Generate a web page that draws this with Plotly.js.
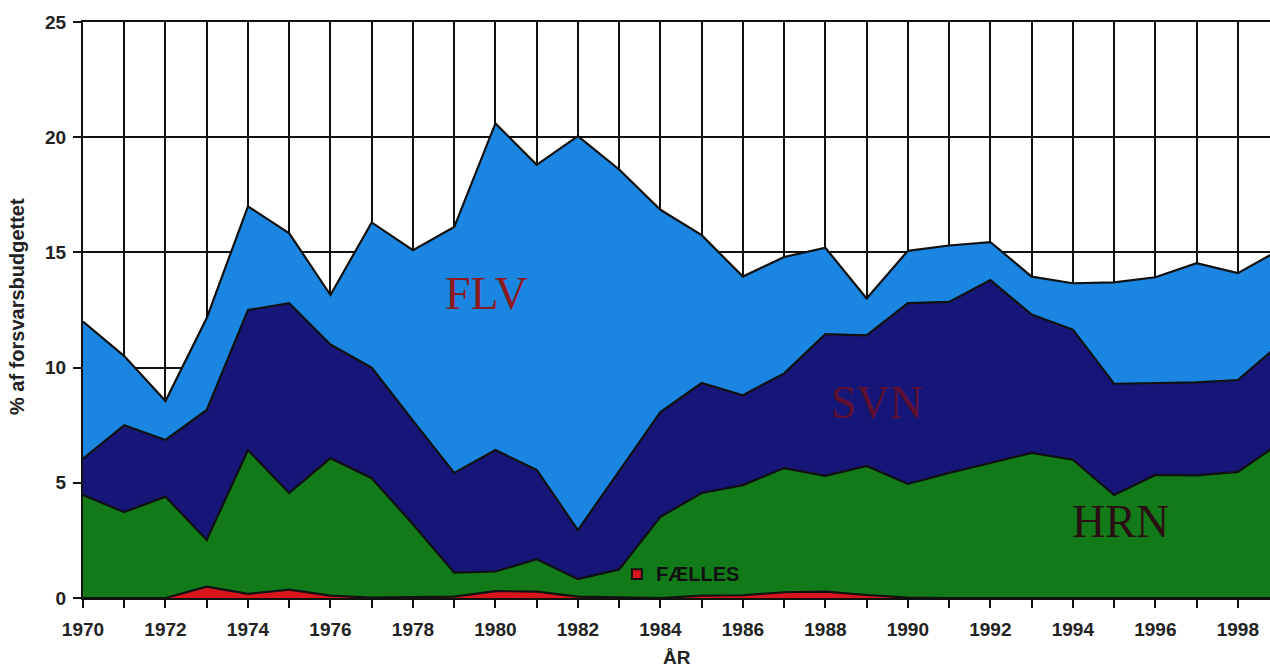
<!DOCTYPE html>
<html>
<head>
<meta charset="utf-8">
<script src="https://cdn.plot.ly/plotly-3.0.1.min.js"></script>
<style>
html,body{margin:0;padding:0;background:#fff;}
#chart{width:1270px;height:671px;}
</style>
</head>
<body>
<div id="chart"></div>
<script>
// Years
const years = [1970,1971,1972,1973,1974,1975,1976,1977,1978,1979,
               1980,1981,1982,1983,1984,1985,1986,1987,1988,1989,
               1990,1991,1992,1993,1994,1995,1996,1997,1998,1999];

// Share of the defence budget (%), per series (stacked bottom to top)
const faelles = [0,0,0,0.49,0.18,0.36,0.10,0.02,0.05,0.06,
                 0.30,0.28,0.06,0.02,0,0.10,0.12,0.25,0.28,0.13,
                 0.02,0,0,0,0,0,0,0,0,0];
const hrn = [4.47,3.73,4.40,2.03,6.24,4.20,5.97,5.18,3.15,1.04,
             0.85,1.40,0.76,1.22,3.52,4.46,4.78,5.39,5.02,5.60,
             4.93,5.43,5.86,6.30,6.00,4.47,5.34,5.32,5.47,6.70];
const svn = [1.58,3.77,2.46,5.64,6.08,8.24,4.93,4.80,4.50,4.33,
             5.27,3.88,2.13,4.26,4.55,4.77,3.90,4.11,6.15,5.67,
             7.85,7.42,7.94,6.00,5.65,4.83,3.99,4.04,3.99,4.30];
const flv = [5.95,3.00,1.69,3.99,4.50,3.03,2.15,6.30,7.40,10.67,
             14.18,13.24,17.10,13.10,8.78,6.42,5.15,5.05,3.75,1.60,
             2.27,2.45,1.65,1.65,2.01,4.40,4.59,5.17,4.64,4.10];

const seriesNames = ['FÆLLES','HRN','SVN','FLV'];
const seriesData = [faelles, hrn, svn, flv];
const seriesColors = ['#d8141c','#127a18','#151678','#1a86e2'];

const traces = seriesData.map((vals, i) => ({
  x: years,
  y: vals,
  name: seriesNames[i],
  type: 'scatter',
  mode: 'lines',
  stackgroup: 'one',
  line: {color: '#111', width: 2.2},
  fillcolor: seriesColors[i],
  showlegend: false,
  hoverinfo: 'x+y+name'
}));

const tickFont = {family: 'Liberation Sans, Arial, sans-serif', size: 19, color: '#222', weight: 'bold'};
const serif = 'Liberation Serif, Times New Roman, serif';

const layout = {
  width: 1270,
  height: 671,
  margin: {l: 83, r: 0, t: 22, b: 73},
  paper_bgcolor: '#fff',
  plot_bgcolor: '#fff',
  showlegend: false,
  xaxis: {
    range: [1970, 1998.78],
    tickmode: 'linear',
    tick0: 1970,
    dtick: 2,
    ticks: 'outside',
    ticklen: 8,
    tickwidth: 2,
    tickcolor: '#111',
    ticklabelstandoff: 5,
    tickfont: tickFont,
    showgrid: true,
    gridcolor: '#111',
    gridwidth: 2,
    minor: {dtick: 1, tick0: 1970, ticks: 'outside', ticklen: 8, tickwidth: 2, tickcolor: '#111',
            showgrid: true, gridcolor: '#111', gridwidth: 2},
    showline: true,
    mirror: true,
    linecolor: '#111',
    linewidth: 2,
    zeroline: false,
    fixedrange: true
  },
  yaxis: {
    range: [0, 25],
    tickmode: 'linear',
    tick0: 0,
    dtick: 5,
    ticks: 'outside',
    ticklen: 8,
    tickwidth: 2,
    tickcolor: '#111',
    ticklabelstandoff: 3,
    tickfont: tickFont,
    showgrid: true,
    gridcolor: '#111',
    gridwidth: 2,
    showline: true,
    linecolor: '#111',
    linewidth: 2,
    zeroline: false,
    fixedrange: true
  },
  annotations: [
    {xref: 'paper', yref: 'paper', x: -0.056, y: 0.506, xanchor: 'center', yanchor: 'middle',
     text: '<b>% af forsvarsbudgettet</b>', textangle: -90, showarrow: false,
     font: {family: 'Liberation Sans, Arial, sans-serif', size: 20, color: '#222'}},
    {xref: 'paper', yref: 'paper', x: 0.5, y: -0.104, xanchor: 'center', yanchor: 'middle',
     text: '<b>ÅR</b>', showarrow: false,
     font: {family: 'Liberation Sans, Arial, sans-serif', size: 19, color: '#222'}},
    {xref: 'x', yref: 'y', x: 1979.79, y: 13.2, text: 'FLV', showarrow: false,
     font: {family: serif, size: 46, color: '#8c1a1e'}},
    {xref: 'x', yref: 'y', x: 1989.25, y: 8.5, text: 'SVN', showarrow: false,
     font: {family: serif, size: 46, color: '#5e1030'}},
    {xref: 'x', yref: 'y', x: 1995.16, y: 3.3, text: 'HRN', showarrow: false,
     font: {family: serif, size: 46, color: '#2a1012'}},
    {xref: 'x', yref: 'y', x: 1983.85, y: 1.04, xanchor: 'left', yanchor: 'middle',
     text: '<b>FÆLLES</b>', showarrow: false,
     font: {family: 'Liberation Sans, Arial, sans-serif', size: 20, color: '#111'}}
  ],
  shapes: [
    {type: 'rect', xref: 'x', yref: 'y', x0: 1983.31, x1: 1983.55, y0: 0.83, y1: 1.25,
     fillcolor: '#d8141c', line: {color: '#111', width: 2}}
  ]
};

Plotly.newPlot('chart', traces, layout, {displayModeBar: false, staticPlot: true});
</script>
</body>
</html>
